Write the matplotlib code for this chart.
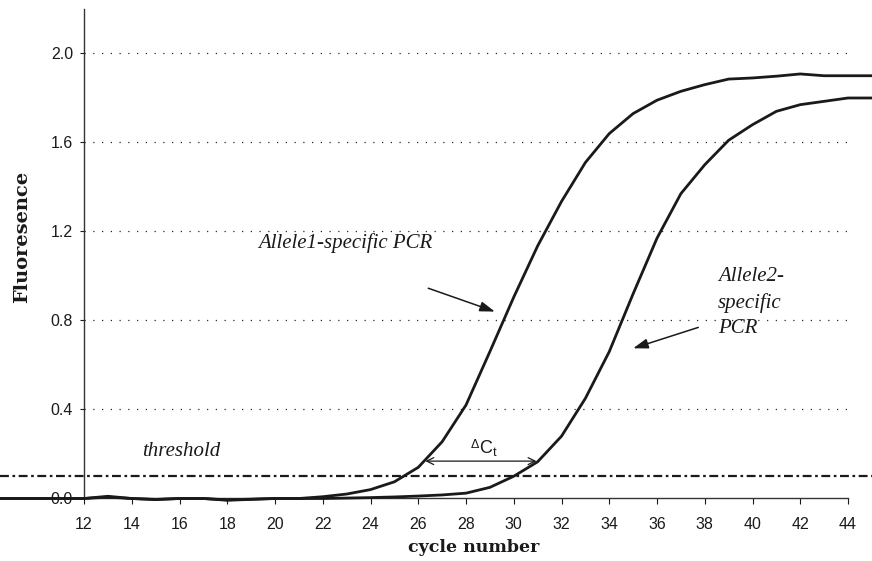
import matplotlib
matplotlib.use("Agg")
import matplotlib.pyplot as plt

# ---- data ----
cycles = list(range(8, 46))
allele1 = [0.0, 0.0, 0.0, 0.0, 0.0, 0.01, 0.0, -0.005, 0.0, 0.0, -0.008, -0.004, 0.0, 0.0,
           0.008, 0.02, 0.04, 0.075, 0.14, 0.255, 0.42, 0.66, 0.905, 1.135, 1.335, 1.51,
           1.64, 1.73, 1.79, 1.83, 1.86, 1.885, 1.89, 1.898, 1.908, 1.90, 1.90, 1.90]
allele2 = [0.0, 0.0, 0.0, 0.0, 0.0, 0.006, 0.0, -0.004, 0.0, 0.0, -0.006, -0.003, 0.0, 0.0,
           0.0, 0.002, 0.004, 0.007, 0.011, 0.016, 0.024, 0.05, 0.10, 0.165, 0.28, 0.45,
           0.66, 0.92, 1.17, 1.37, 1.50, 1.61, 1.68, 1.74, 1.77, 1.785, 1.80, 1.80]
threshold = 0.10
yticks = [0.0, 0.4, 0.8, 1.2, 1.6, 2.0]
xticks = list(range(12, 45, 2))
dct_left, dct_right, dct_y = 26.3, 30.95, 0.168

W, H = 872, 561
fig = plt.figure(figsize=(W / 100, H / 100), dpi=100)
ax = fig.add_axes([0, 0, 1, 1])
ax.set_xlim(8.4817, 45.005)
ax.set_ylim(-0.2809, 2.2404)
ax.patch.set_alpha(0)

ink = '#1a1a1a'
sans = ['Liberation Sans', 'DejaVu Sans']
serif = ['DejaVu Serif']

# grid lines (dotted)
for yv in yticks[1:]:
    ax.plot([12, 44], [yv, yv], color='#2a2a2a', lw=0.9, linestyle=(0, (1, 6.0)), zorder=1)

# threshold line
ax.axhline(threshold, color=ink, lw=1.6, dashes=(4, 1.6, 1.2, 1.6), zorder=2)

# curves
ax.plot(cycles, allele2, color=ink, lw=2.0, zorder=3, clip_on=False)
ax.plot(cycles, allele1, color=ink, lw=2.0, zorder=3, clip_on=False)

# spines
for s in ['top', 'right']:
    ax.spines[s].set_visible(False)
ax.spines['left'].set_position(('data', 12))
ax.spines['left'].set_bounds(0, 2.2)
ax.spines['bottom'].set_position(('data', 0))
ax.spines['bottom'].set_bounds(12, 44)
for s in ['left', 'bottom']:
    ax.spines[s].set_color('#333333')
    ax.spines[s].set_linewidth(1.0)

ax.set_yticks(yticks)
ax.set_yticklabels([f'{v:.1f}' for v in yticks])
ax.set_xticks(xticks)
ax.set_xticklabels([str(v) for v in xticks])
ax.tick_params(axis='y', direction='out', length=3, width=0.8, pad=5, colors=ink, labelsize=11.5)
ax.tick_params(axis='x', direction='out', length=4.5, width=0.8, pad=9, colors=ink, labelsize=11.5)
for lab in ax.get_xticklabels() + ax.get_yticklabels():
    lab.set_family(sans)

# axis labels
ax.set_xlabel('cycle number', family=serif, weight='bold', fontsize=12.5, color=ink, va='center')
ax.xaxis.set_label_coords(474 / W, (H - 548) / H)
ax.set_ylabel('Fluoresence', family=serif, weight='bold', fontsize=14, color=ink, va='center')
ax.yaxis.set_label_coords(22 / W, (H - 237) / H)

# annotations
ital = dict(family=['Liberation Serif', 'DejaVu Serif'], style='italic', fontsize=15, color=ink)
ax.text(19.29, 1.148, 'Allele1-specific PCR', ha='left', va='center', **ital)
ax.annotate('', xy=(29.21, 0.84), xytext=(26.42, 0.945),
            arrowprops=dict(arrowstyle='-|>,head_length=0.9,head_width=0.3', color=ink, lw=1.1,
                            shrinkA=0, shrinkB=0))
ax.text(38.56, 0.879, 'Allele2-\nspecific\nPCR', ha='left', va='center', linespacing=1.45, **ital)
ax.annotate('', xy=(35.0, 0.675), xytext=(37.73, 0.769),
            arrowprops=dict(arrowstyle='-|>,head_length=0.9,head_width=0.3', color=ink, lw=1.1,
                            shrinkA=0, shrinkB=0))
ax.text(14.42, 0.21, 'threshold', ha='left', va='center', **ital)

# delta Ct
ax.annotate('', xy=(dct_left, dct_y), xytext=(dct_right, dct_y),
            arrowprops=dict(arrowstyle='<->,head_length=0.5,head_width=0.25', color=ink, lw=0.9,
                            shrinkA=0, shrinkB=0))
ax.text(28.35, 0.24, '\u0394', family=sans, fontsize=9, ha='center', va='center', color=ink)
ax.text(28.55, 0.228, 'C$_\\mathregular{t}$', family=sans, fontsize=13, ha='left', va='center', color=ink)

fig.savefig('out.png', dpi=100)
